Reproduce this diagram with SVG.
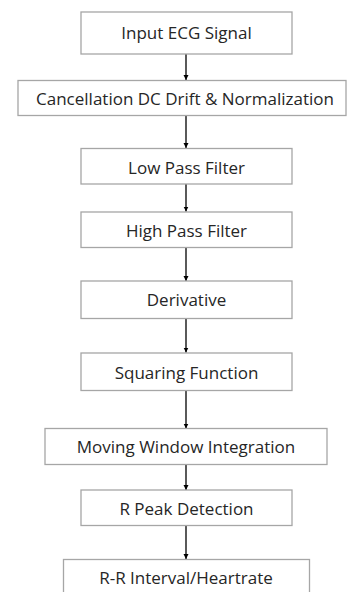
<svg xmlns="http://www.w3.org/2000/svg" width="347" height="592" viewBox="0 0 347 592">
<style>
.box rect{fill:#fff;stroke:#a6a6a6;stroke-width:1.3}
.box text{font-family:"Open Sans","Liberation Sans",sans-serif;font-size:17px;fill:#262626;text-anchor:middle}
.conn line{stroke:#000;stroke-width:1.3}
</style>
<defs>
<marker id="ah" markerWidth="6" markerHeight="6" refX="5" refY="3" orient="auto" markerUnits="userSpaceOnUse">
<path d="M0,0.5 L5,3 L0,5.5 Z" fill="#000"/>
</marker>
</defs>
<rect width="347" height="592" fill="#fff"/>
<g class="conn">
<line x1="186" y1="54" x2="186" y2="80" marker-end="url(#ah)"/>
<line x1="186" y1="115.5" x2="186" y2="148" marker-end="url(#ah)"/>
<line x1="186" y1="184" x2="186" y2="211.5" marker-end="url(#ah)"/>
<line x1="186" y1="247.5" x2="186" y2="281" marker-end="url(#ah)"/>
<line x1="186" y1="318.5" x2="186" y2="352.5" marker-end="url(#ah)"/>
<line x1="186" y1="390.5" x2="186" y2="428.5" marker-end="url(#ah)"/>
<line x1="186" y1="464.5" x2="186" y2="490" marker-end="url(#ah)"/>
<line x1="186" y1="525.5" x2="186" y2="559" marker-end="url(#ah)"/>
</g>
<g class="box" id="n1"><rect x="81" y="12" width="211" height="42"/><text x="186.5" y="39">Input ECG Signal</text></g>
<g class="box" id="n2"><rect x="18" y="80.5" width="328" height="35"/><text x="185" y="104.5">Cancellation DC Drift &amp; Normalization</text></g>
<g class="box" id="n3"><rect x="81" y="148.5" width="211" height="35.5"/><text x="186.5" y="173.5">Low Pass Filter</text></g>
<g class="box" id="n4"><rect x="81" y="212" width="211" height="35.5"/><text x="186.5" y="237">High Pass Filter</text></g>
<g class="box" id="n5"><rect x="81" y="281" width="211" height="37.5"/><text x="186.5" y="306">Derivative</text></g>
<g class="box" id="n6"><rect x="81" y="353" width="211" height="37.5"/><text x="186.5" y="378.5">Squaring Function</text></g>
<g class="box" id="n7"><rect x="45" y="428.5" width="282" height="36"/><text x="186" y="453">Moving Window Integration</text></g>
<g class="box" id="n8"><rect x="81" y="490" width="211" height="35.5"/><text x="186.5" y="514.5">R Peak Detection</text></g>
<g class="box" id="n9"><rect x="63.5" y="559.5" width="246" height="40"/><text x="186" y="583.5">R-R Interval/Heartrate</text></g>
</svg>
